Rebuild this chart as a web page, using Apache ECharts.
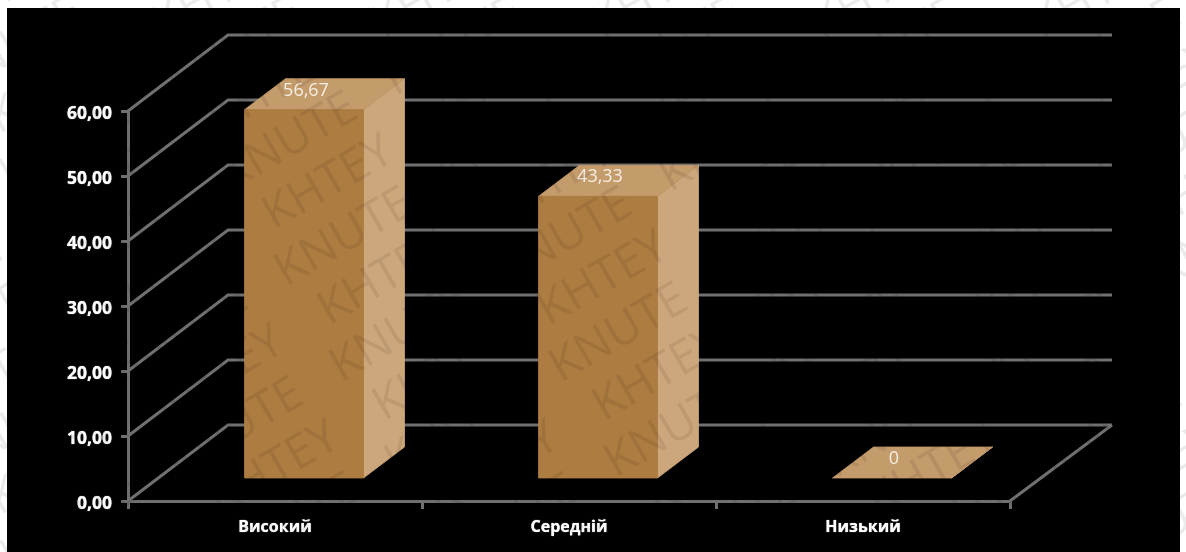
<!DOCTYPE html>
<html>
<head>
<meta charset="utf-8">
<style>
html,body{margin:0;padding:0;background:#fff;overflow:hidden}
#c{width:1186px;height:552px;filter:blur(0.55px)}
</style>
<script src="https://cdn.jsdelivr.net/npm/echarts@6/dist/echarts.min.js"></script>
</head>
<body>
<div id="c"></div>
<script>
const categories = ['Високий', 'Середній', 'Низький'];
const values = [56.67, 43.33, 0];
const ticks = [0, 10, 20, 30, 40, 50, 60];
const watermarkWords = ['KHTEY', 'KNUTE'];

const AXIS = '#707070';
const WALL_DX = 100, WALL_DY = -76;
const BAR_W = 119, BAR_DX = 41, BAR_DY = -31, BAR_SHIFT_X = 29, BAR_SHIFT_Y = -23;
const fmt = v => v.toFixed(2).replace('.', ',');
const poly = (points, fill) => ({ type: 'polygon', shape: { points }, style: { fill, stroke: fill, lineWidth: 0.8 } });

function renderWall(params, api) {
  const cs = params.coordSys;
  const v = api.value(1);
  const y = api.coord([0, v])[1];
  const L = cs.x, R = cs.x + cs.width;
  const children = [{
    type: 'polyline',
    shape: { points: [[L, y], [L + WALL_DX, y + WALL_DY], [R + WALL_DX + 2, y + WALL_DY]] },
    style: { stroke: AXIS, lineWidth: 3, fill: null }
  }];
  if (v === 0) {
    children.push({
      type: 'line',
      shape: { x1: R, y1: y, x2: R + WALL_DX + 2, y2: y + WALL_DY },
      style: { stroke: AXIS, lineWidth: 3 }
    });
  }
  return { type: 'group', children };
}

function renderBar(params, api) {
  const top = api.coord([api.value(0), api.value(1)]);
  const base = api.coord([api.value(0), 0]);
  const l = top[0] + BAR_SHIFT_X - BAR_W / 2, r = l + BAR_W;
  const t = top[1] + BAR_SHIFT_Y, b = base[1] + BAR_SHIFT_Y;
  const v = api.value(1);
  const parts = [
    poly([[r, t], [r + BAR_DX, t + BAR_DY], [r + BAR_DX, b + BAR_DY], [r, b]], '#cca77b'),
    poly([[l, t], [r, t], [r + BAR_DX, t + BAR_DY], [l + BAR_DX, t + BAR_DY]], '#c49b6b')
  ];
  if (v > 0) parts.push(poly([[l, t], [r, t], [r, b], [l, b]], '#ad7c41'));
  parts.push({
    type: 'text',
    style: {
      x: (l + r) / 2 + 2, y: t - 19,
      text: v === 0 ? '0' : fmt(v),
      fill: '#f6eee3', font: '18px "Open Sans"',
      align: 'center', verticalAlign: 'middle'
    }
  });
  return { type: 'group', children: parts };
}

const ROT = 30 * Math.PI / 180, ROW_GAP = 55.1, WORD_GAP = 190, W = 1186, H = 552;
const watermark = [];
for (let k = -6; k < 14; k++) {
  const word = watermarkWords[((k % 2) + 2) % 2];
  const v = 323 + ROW_GAP * k;
  const start = (k % 2 ? 119 : 137) - 15;
  for (let j = -3; j < 6; j++) {
    const u = start + j * WORD_GAP;
    const cx = (u + 80) * Math.cos(ROT) + v * Math.sin(ROT);
    const cy = -(u + 80) * Math.sin(ROT) + v * Math.cos(ROT);
    if (cx < -110 || cx > W + 110 || cy < -110 || cy > H + 110) continue;
    watermark.push({
      type: 'text', x: 0, y: 0, rotation: ROT, originX: 0, originY: 0, z: 100, silent: true,
      style: { x: u, y: v, text: word, fill: 'rgba(0,0,0,0.08)', font: '47px "Open Sans"', verticalAlign: 'middle' }
    });
  }
}

const chart = echarts.init(document.getElementById('c'), null, { renderer: 'canvas' });
chart.setOption({
  animation: false,
  backgroundColor: '#ffffff',
  tooltip: { show: false },
  grid: { left: 128, right: 176, top: 111, bottom: 51 },
  xAxis: {
    type: 'category',
    data: categories,
    axisLine: { lineStyle: { color: AXIS, width: 3 } },
    axisTick: { show: true, length: 8, lineStyle: { color: AXIS, width: 3 } },
    axisLabel: { color: '#fff', fontFamily: 'Open Sans', fontWeight: 'bold', fontSize: 16, margin: 18, textShadowColor: '#fff', textShadowBlur: 1 }
  },
  yAxis: {
    type: 'value',
    min: 0, max: 60, interval: 10,
    axisLine: { show: true, lineStyle: { color: AXIS, width: 3 } },
    axisTick: { show: true, length: 7, lineStyle: { color: AXIS, width: 3 } },
    splitLine: { show: false },
    axisLabel: {
      margin: 16,
      formatter: v => '{t|' + fmt(v) + '}',
      rich: { t: { color: '#fff', fontFamily: 'Open Sans', fontWeight: 'bold', fontSize: 17.5, padding: [7, 0, 0, 0], textShadowColor: '#fff', textShadowBlur: 1 } }
    }
  },
  graphic: [
    { type: 'rect', z: -10, silent: true, shape: { x: 7, y: 8, width: 1173, height: 544 }, style: { fill: '#000' } },
    ...watermark
  ],
  series: [
    { type: 'custom', z: 1, clip: false, renderItem: renderWall, data: ticks.map(t => [0, t]), encode: { x: 0, y: 1 }, silent: true },
    { type: 'custom', z: 3, clip: false, renderItem: renderBar, data: values.map((v, i) => [i, v]), encode: { x: 0, y: 1 }, silent: true }
  ]
});
</script>
</body>
</html>
